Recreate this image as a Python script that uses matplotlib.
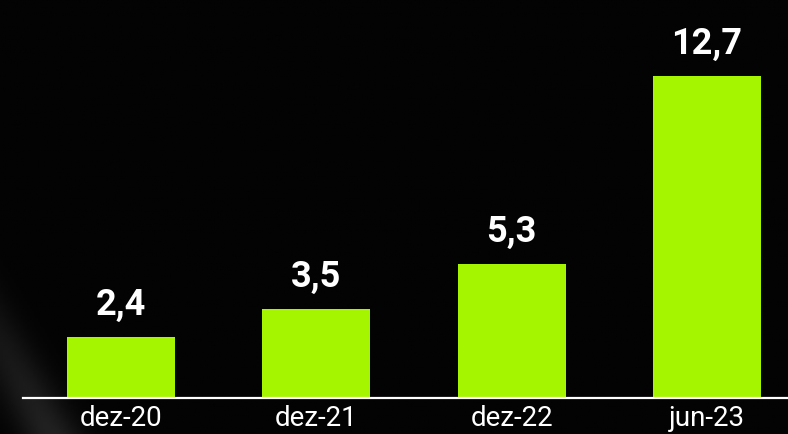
import matplotlib.pyplot as plt
import numpy as np

# ── Data ─────────────────────────────────────────────────────────────────────
periods = ["dez-20", "dez-21", "dez-22", "jun-23"]
values = [2.4, 3.5, 5.3, 12.7]
value_labels = ["2,4", "3,5", "5,3", "12,7"]

BAR_COLOR = "#a6f500"
BG = "#000000"

plt.rcParams["font.family"] = ["Roboto", "DejaVu Sans"]

fig = plt.figure(figsize=(7.88, 4.34), dpi=100, facecolor=BG)

# faint diagonal sheen in the lower-left corner
bg_ax = fig.add_axes([0, 0, 1, 1], zorder=-1)
yy, xx = np.mgrid[0:1:200j, 0:1:360j]
d = xx * 7.88 + yy * 4.34 * 0.55
band = np.exp(-((d - 0.5) / 0.3) ** 2) * (1 - yy) ** 2
img = np.clip(0.012 + 0.12 * band, 0, 1)
bg_ax.imshow(img, cmap="gray", vmin=0, vmax=1, origin="lower",
             extent=[0, 1, 0, 1], aspect="auto")
bg_ax.axis("off")

ax = fig.add_axes([23 / 788, 36 / 434, 765 / 788, 398 / 434])
ax.patch.set_alpha(0)

x = np.arange(len(periods))
bars = ax.bar(x, values, width=0.554, color=BAR_COLOR, zorder=2)

for bar, lab in zip(bars, value_labels):
    ax.annotate(lab, (bar.get_x() + bar.get_width() / 2, bar.get_height()),
                xytext=(0, 16), textcoords="offset points",
                ha="center", va="baseline", color="white",
                fontsize=26, fontweight="bold", annotation_clip=False)

ax.set_xlim(-0.502, 3.415)
ax.set_ylim(0, 15.7)

for side in ("top", "right", "left"):
    ax.spines[side].set_visible(False)
ax.spines["bottom"].set_color("white")
ax.spines["bottom"].set_linewidth(1.6)
ax.spines["bottom"].set_zorder(3)

ax.set_yticks([])
ax.set_xticks(x)
ax.set_xticklabels(periods, color="white", fontsize=20)
ax.tick_params(axis="x", length=0, pad=5)

fig.savefig("out.png", dpi=100, facecolor=BG)
